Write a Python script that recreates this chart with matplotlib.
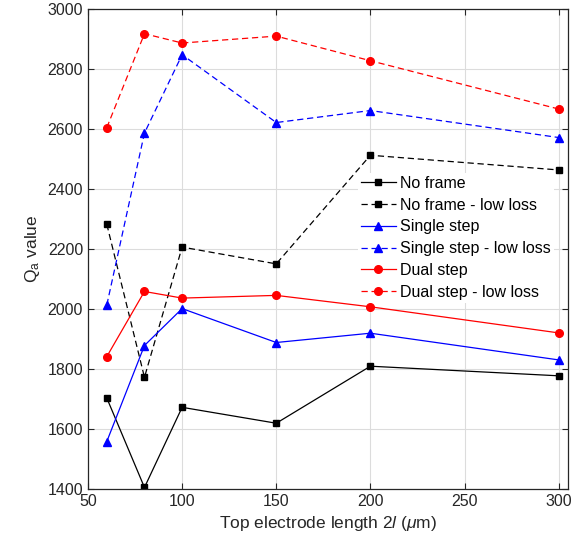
import matplotlib
matplotlib.use('Agg')
import matplotlib.pyplot as plt

plt.rcParams['font.family'] = ['Liberation Sans', 'DejaVu Sans']
plt.rcParams['mathtext.fontset'] = 'custom'
plt.rcParams['mathtext.rm'] = 'Liberation Sans'
plt.rcParams['mathtext.it'] = 'Liberation Sans:italic'

# electrode length (um)
length = [60, 80, 100, 150, 200, 300]

# Qa values
no_frame = [1703, 1405, 1672, 1619, 1809, 1777]
no_frame_ll = [2282, 1772, 2206, 2150, 2512, 2463]
single_step = [1558, 1878, 2001, 1888, 1919, 1830]
single_step_ll = [2013, 2586, 2847, 2621, 2661, 2571]
dual_step = [1841, 2058, 2036, 2045, 2007, 1920]
dual_step_ll = [2604, 2917, 2886, 2909, 2827, 2666]

labels = ['No frame', 'No frame - low loss', 'Single step',
          'Single step - low loss', 'Dual step', 'Dual step - low loss']

fig = plt.figure(figsize=(5.75, 5.5), dpi=100)
ax = fig.add_axes([0.153, 0.111, 0.835, 0.873])

dash = (0, (5, 3))
ax.plot(length, no_frame, '-', color='k', marker='s', ms=4.5, lw=0.9, label=labels[0])
ax.plot(length, no_frame_ll, color='k', ls=dash, marker='s', ms=4.5, lw=0.9, label=labels[1])
ax.plot(length, single_step, '-', color='b', marker='^', ms=6, lw=0.9, label=labels[2])
ax.plot(length, single_step_ll, color='b', ls=dash, marker='^', ms=6, lw=0.9, label=labels[3])
ax.plot(length, dual_step, '-', color='r', marker='o', ms=5.5, lw=0.9, label=labels[4])
ax.plot(length, dual_step_ll, color='r', ls=dash, marker='o', ms=5.5, lw=0.9, label=labels[5])

ax.set_xlim(50, 305)
ax.set_ylim(1400, 3000)
ax.set_xticks([50, 100, 150, 200, 250, 300])
ax.set_yticks(range(1400, 3001, 200))
ax.grid(True, color='#dcdcdc', lw=0.8)
ax.set_axisbelow(True)
ax.tick_params(direction='in', top=True, right=True, labelsize=11.5, length=4,
               color='#262626', labelcolor='#262626')
for s in ax.spines.values():
    s.set_color('#262626')
    s.set_linewidth(0.9)

ax.set_xlabel('Top electrode length 2$\\it{l}$ ($\\mu$m)', fontsize=12.5, color='#262626')
ax.set_ylabel('Q$_{\\rm a}$ value', fontsize=12.5, color='#262626')

leg = ax.legend(loc='upper left', bbox_to_anchor=(0.545, 0.675), fontsize=11.5,
                frameon=True, fancybox=False, edgecolor='none', facecolor='white',
                framealpha=1, handlelength=2.2, labelspacing=0.42,
                handletextpad=0.25, borderpad=0.2)

fig.savefig('out.png', dpi=100)
